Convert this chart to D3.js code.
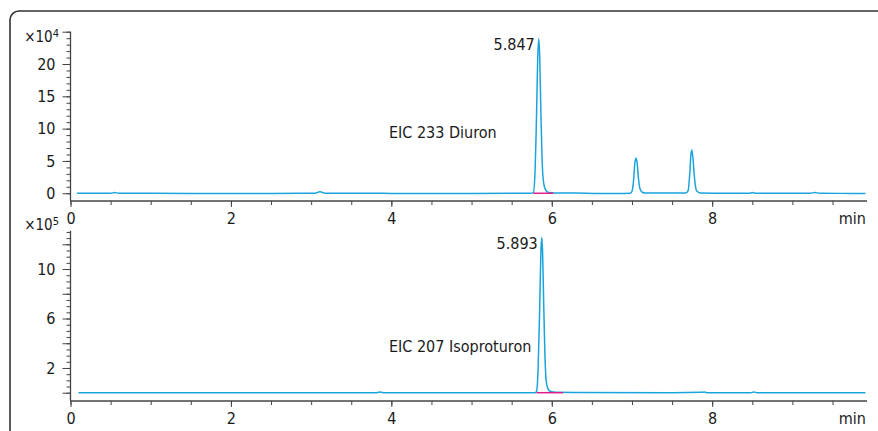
<!DOCTYPE html>
<html><head><meta charset="utf-8">
<script src="https://cdn.jsdelivr.net/npm/d3@7/dist/d3.min.js"></script>
<style>
body{margin:0;background:#fff;}
text{font-family:"Liberation Sans Narrow","Arial Narrow","DejaVu Sans Condensed",sans-serif;font-stretch:condensed;fill:#1a1a1a;}
</style></head><body>
<svg id="c" width="878" height="431"></svg>
<script>
// ---- data ----
const xTicks = [0, 2, 4, 6, 8];
const xDomain = [0, 9.93];
const topYLabels = [0, 5, 10, 15, 20];
const topYDomain = [-1.2, 25];
const botYLabels = [2, 6, 10];
const botYDomain = [-0.67, 13.1];
const topExponent = "4";
const botExponent = "5";
const topTitle = "EIC 233 Diuron";
const botTitle = "EIC 207 Isoproturon";
const topPeakLabel = {rt: "5.847", t: 5.838, v: 23.9};
const botPeakLabel = {rt: "5.893", t: 5.875, v: 12.55};
const topIntegration = [5.77, 6.02];
const botIntegration = [5.81, 6.14];
// top trace: time (min), intensity (x10^4)
const topTime = [0.08,0.5,0.55,0.6,1.5,2.5,3.05,3.11,3.17,4.0,5.0,5.6,5.74,5.77,5.79,5.81,5.825,5.838,5.85,5.865,5.88,5.9,5.93,5.97,6.02,6.3,6.6,6.8,6.98,7.0,7.02,7.035,7.05,7.065,7.08,7.1,7.13,7.17,7.4,7.67,7.7,7.72,7.735,7.745,7.76,7.775,7.79,7.81,7.85,8.2,8.46,8.5,8.54,9.22,9.28,9.34,9.6,9.91];
const topValue = [0,0,0.12,0,-0.02,-0.03,0,0.25,0,-0.02,-0.02,0,0,0.1,3,12,21,23.9,21,12,5,1.5,0.4,0.1,0.05,0.03,-0.05,-0.05,0,0.3,2,4.6,5.4,4.6,2.4,0.7,0.15,0.02,0.05,0.03,0.4,3,6.0,6.7,5.5,3,1.2,0.3,0.05,0,0,0.1,0,0,0.12,0,-0.02,-0.05];
// bottom trace: time (min), intensity (x10^5)
const botTime = [0.1,2,3.8,3.86,3.92,5.79,5.81,5.83,5.85,5.865,5.875,5.885,5.9,5.915,5.93,5.95,5.98,6.05,6.3,7.5,7.85,7.9,7.95,8.48,8.52,8.56,9.91];
const botValue = [0,0,0,0.05,0,0,0.1,2,7,11.5,12.55,11.5,7,3,1,0.35,0.12,0.03,0.02,0,0.03,0.05,0,0,0.06,0,0];

const svg = d3.select("#c");
const traceColor = "#1ba3de", integColor = "#e0208a", axisColor = "#444";

// frame
svg.append("rect").attr("x",10).attr("y",11).attr("width",900).attr("height",450)
  .attr("rx",9).attr("fill","none").attr("stroke","#333").attr("stroke-width",1.6);

const x = d3.scaleLinear().domain(xDomain).range([70.5, 867]);

function panel(yRange, yDomain, labels, majorStep, minorStep, labelTicks, exp, times, values, title, titlePos, peak, integ, expY){
  const y = d3.scaleLinear().domain(yDomain).range(yRange);
  const g = svg.append("g");
  // x axis
  const xa = d3.axisBottom(x).tickValues(d3.range(0, 10, 0.5)).tickSize(4).tickFormat("");
  g.append("g").attr("transform",`translate(0,${yRange[0]})`).call(xa)
    .call(s=>{s.select(".domain").attr("stroke",axisColor).attr("stroke-width",1.3).attr("d",`M${x.range()[0]},0H${x.range()[1]}`);
              s.selectAll(".tick line").attr("stroke",axisColor);});
  const xl = d3.axisBottom(x).tickValues(xTicks).tickSize(6).tickFormat(d3.format("d"));
  g.append("g").attr("transform",`translate(0,${yRange[0]})`).call(xl)
    .call(s=>{s.select(".domain").remove();
      s.selectAll(".tick line").attr("stroke",axisColor);
      s.selectAll(".tick text").attr("y",12).attr("dy","0.71em").style("font-size","16px").attr("fill","#1a1a1a").style("font-family",null);});
  g.append("text").attr("x",866).attr("y",yRange[0]+23).attr("text-anchor","end").style("font-size","16px").text("min");
  // y axis
  const top = yDomain[1];
  const minor = d3.range(0, top+1e-6, minorStep);
  const ya = d3.axisLeft(y).tickValues(minor).tickSize(4).tickFormat("");
  g.append("g").attr("transform",`translate(70.5,0)`).call(ya)
    .call(s=>{s.select(".domain").attr("stroke",axisColor).attr("stroke-width",1.3).attr("d",`M0,${yRange[0]}V${yRange[1]}`);
              s.selectAll(".tick line").attr("stroke",axisColor);});
  const major = d3.range(0, top+1e-6, majorStep);
  const ym = d3.axisLeft(y).tickValues(major).tickSize(8).tickFormat(d=> labelTicks.includes(d)? d3.format("d")(d):"");
  g.append("g").attr("transform",`translate(70.5,0)`).call(ym)
    .call(s=>{s.select(".domain").remove();
      s.selectAll(".tick line").attr("stroke",axisColor);
      s.selectAll(".tick text").attr("x",-15).style("font-size","16px").attr("fill","#1a1a1a").style("font-family",null);});
  // exponent
  const et = g.append("text").attr("x",59).attr("y",expY).attr("text-anchor","end").style("font-size","15px");
  et.append("tspan").text("\u00d710");
  et.append("tspan").attr("dy",-5).style("font-size","11px").text(exp);
  // trace
  const pts = times.map((t,i)=>[t, values[i]]);
  g.append("path").datum(pts).attr("fill","none").attr("stroke",traceColor).attr("stroke-width",1.5)
    .attr("d", d3.line().x(d=>x(d[0])).y(d=>y(d[1])).curve(d3.curveMonotoneX));
  // integration baseline (drawn over trace)
  g.append("line").attr("x1",x(integ[0])).attr("x2",x(integ[1])).attr("y1",y(0)).attr("y2",y(0))
    .attr("stroke",integColor).attr("stroke-width",1.5);
  // labels
  g.append("text").attr("x",titlePos[0]).attr("y",titlePos[1]).style("font-size","16px").text(title);
  g.append("text").attr("x",x(peak.t)-4).attr("y",y(peak.v)+11).attr("text-anchor","end").style("font-size","16px").text(peak.rt);
}

panel([201, 31.7], topYDomain, topYLabels, 5, 1, topYLabels, topExponent, topTime, topValue, topTitle, [389, 138], topPeakLabel, topIntegration, 42);
panel([401, 230.7], botYDomain, botYLabels, 2, 0.5, botYLabels, botExponent, botTime, botValue, botTitle, [389, 352], botPeakLabel, botIntegration, 230);
</script>
</body></html>
